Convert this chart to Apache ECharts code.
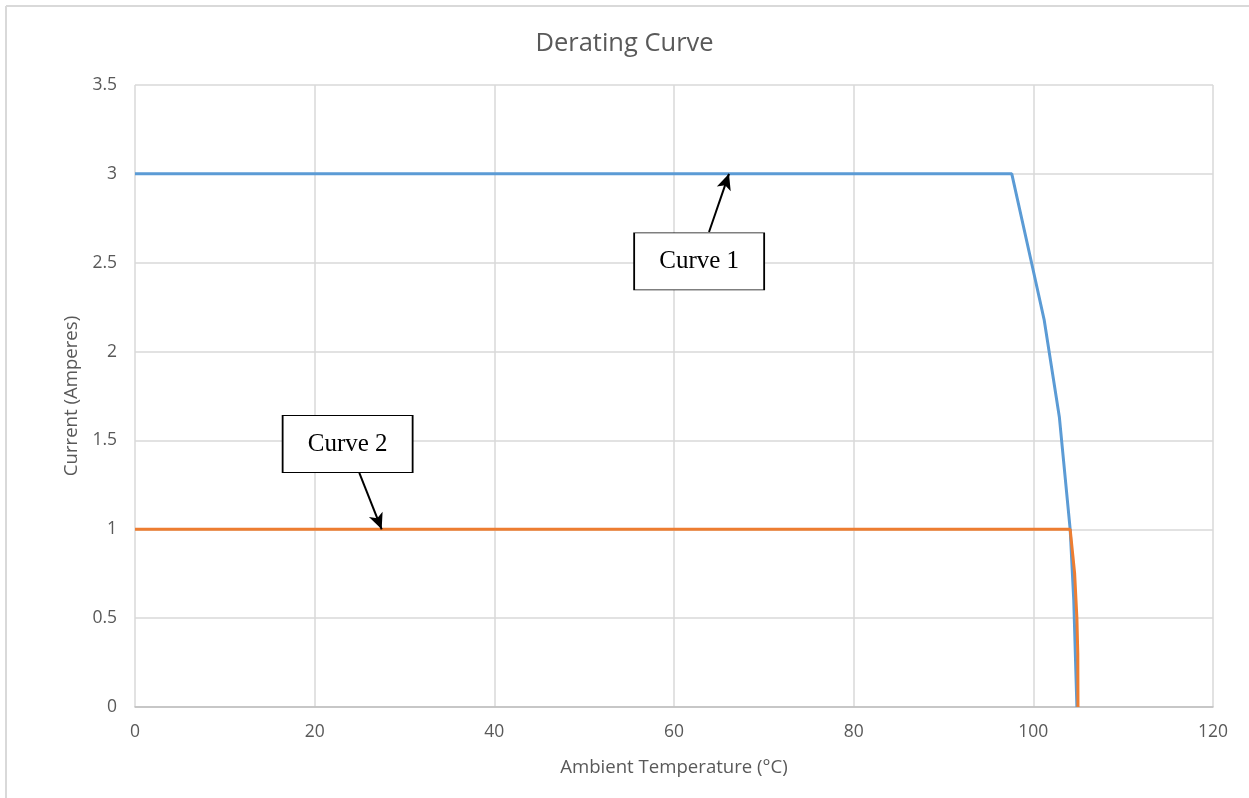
<!DOCTYPE html>
<html>
<head>
<meta charset="utf-8">
<script src="https://cdn.jsdelivr.net/npm/echarts/dist/echarts.min.js"></script>
<style>
html,body{margin:0;padding:0;background:#fff;}
#chart{width:1249px;height:798px;}
</style>
</head>
<body>
<div id="chart"></div>
<script>
// ---- data ----
const titleText = 'Derating Curve';
const xAxisName = 'Ambient Temperature (°C)';
const yAxisName = 'Current (Amperes)';
const curve1Name = 'Curve 1';
const curve2Name = 'Curve 2';
const curve1 = [[0,3],[97.6,3],[99.8,2.5],[101.2,2.18],[102.9,1.63],[104.1,1.0],[104.5,0.6],[104.85,0]];
const curve2 = [[0,1],[104.1,1],[104.4,0.85],[104.6,0.75],[104.85,0.5],[104.95,0.3],[104.97,0]];
// annotation label centres and arrows (data coordinates)
const label1At = [62.8, 2.507];
const label2At = [23.67, 1.48];
const arrow1 = [[63.9, 2.673],[66.12, 3.0]];
const arrow2 = [[24.97, 1.317],[27.46, 1.0]];

const chart = echarts.init(document.getElementById('chart'));
const txt = '#595959';
const font = 'Open Sans';

function annot(at, text, arrow){
  return {
    markPoint: {
      symbol: 'rect', symbolSize: [130, 57], silent: true,
      itemStyle: {color: '#fff', borderColor: '#000', borderWidth: 1.2},
      label: {show: true, position: 'inside', color: '#000', fontFamily: 'Liberation Serif', fontSize: 25, formatter: text},
      data: [{coord: at}]
    },
    markLine: {
      silent: true, animation: false,
      symbol: ['none','arrow'], symbolSize: [11, 16],
      lineStyle: {color: '#000', width: 2, type: 'solid'},
      label: {show: false},
      data: [[{coord: arrow[0]},{coord: arrow[1]}]]
    }
  };
}

chart.setOption({
  animation: false,
  title: {text: titleText, left: 'center', top: 26, textStyle: {color: txt, fontFamily: font, fontSize: 25.5, fontWeight: 'normal'}},
  grid: {left: 135, right: 36, top: 85, bottom: 91},
  graphic: [
    {type: 'line', shape: {x1: 6, y1: 6, x2: 1249, y2: 6}, style: {stroke: '#d9d9d9', lineWidth: 2}},
    {type: 'line', shape: {x1: 6, y1: 6, x2: 6, y2: 798}, style: {stroke: '#d9d9d9', lineWidth: 2}}
  ],
  xAxis: {
    type: 'value', min: 0, max: 120, interval: 20,
    name: xAxisName, nameLocation: 'middle', nameGap: 51,
    nameTextStyle: {color: txt, fontFamily: font, fontSize: 18.6},
    axisLine: {show: true, lineStyle: {color: '#bfbfbf', width: 1.5}},
    axisTick: {show: false},
    axisLabel: {color: txt, fontFamily: font, fontSize: 17.5, margin: 16},
    splitLine: {show: true, lineStyle: {color: '#d9d9d9', width: 1.5}}
  },
  yAxis: {
    type: 'value', min: 0, max: 3.5, interval: 0.5,
    name: yAxisName, nameLocation: 'middle', nameGap: 51,
    nameTextStyle: {color: txt, fontFamily: font, fontSize: 18.6},
    axisLine: {show: false},
    axisTick: {show: false},
    axisLabel: {color: txt, fontFamily: font, fontSize: 17.5, margin: 18},
    splitLine: {show: true, lineStyle: {color: '#d9d9d9', width: 1.5}}
  },
  series: [
    Object.assign({
      name: curve1Name, type: 'line', data: curve1, showSymbol: false, symbol: 'none',
      lineStyle: {color: '#5B9BD5', width: 3}, itemStyle: {color: '#5B9BD5'}, z: 2
    }, annot(label1At, curve1Name, arrow1)),
    Object.assign({
      name: curve2Name, type: 'line', data: curve2, showSymbol: false, symbol: 'none',
      lineStyle: {color: '#ED7D31', width: 3}, itemStyle: {color: '#ED7D31'}, z: 3
    }, annot(label2At, curve2Name, arrow2))
  ]
});
</script>
</body>
</html>
